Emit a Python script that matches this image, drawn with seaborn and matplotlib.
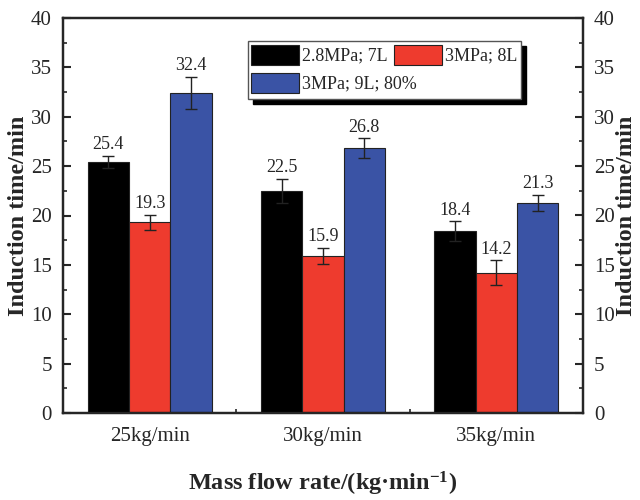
import matplotlib
matplotlib.use('Agg')
import matplotlib.pyplot as plt
import seaborn as sns
import pandas as pd
from matplotlib.ticker import MultipleLocator
from matplotlib.patches import Rectangle

categories = ['25kg/min', '30kg/min', '35kg/min']
series = ['2.8MPa; 7L', '3MPa; 8L', '3MPa; 9L; 80%']
vals_a = [25.4, 22.5, 18.4]
vals_b = [19.3, 15.9, 14.2]
vals_c = [32.4, 26.8, 21.3]
err_a = [0.6, 1.2, 1.0]
err_b = [0.8, 0.8, 1.25]
err_c = [1.6, 1.0, 0.8]
colors = ['#000000', '#EE3B2E', '#3A53A5']

sns.set_style('ticks')
plt.rcParams['font.family'] = ['Liberation Serif', 'DejaVu Serif']
plt.rcParams['mathtext.fontset'] = 'custom'
plt.rcParams['mathtext.rm'] = 'Liberation Serif'
plt.rcParams['mathtext.bf'] = 'Liberation Serif:bold'

df = pd.DataFrame({
    'cat': categories * 3,
    'series': [s for s in series for _ in categories],
    'val': vals_a + vals_b + vals_c,
})
errs = [err_a, err_b, err_c]

fig = plt.figure(figsize=(6.4, 5), dpi=100)
ax = fig.add_axes([63 / 640, 1 - 413 / 500, 520 / 640, 395 / 500])
sns.barplot(data=df, x='cat', y='val', hue='series', order=categories,
            hue_order=series, palette=colors, saturation=1, width=0.716,
            errorbar=None, edgecolor='#222222', linewidth=0.8, ax=ax)

for cont, ee in zip(ax.containers, errs):
    for bar, e in zip(cont, ee):
        x = bar.get_x() + bar.get_width() / 2
        h = bar.get_height()
        ax.errorbar(x, h, yerr=e, fmt='none', ecolor='#222222',
                    elinewidth=1.0, capsize=4, capthick=1.0, zorder=5)
        ax.annotate(f'{h:.1f}', (x, h + e), xytext=(0, 2),
                    textcoords='offset points', ha='center', va='bottom',
                    fontsize=13)

ax.set_xlim(-0.5, 2.5)
ax.set_ylim(0, 40)
ax.yaxis.set_major_locator(MultipleLocator(5))
ax.yaxis.set_minor_locator(MultipleLocator(2.5))
ax.set_xticks([0.5, 1.5], minor=True)
ax.tick_params(which='major', direction='in', length=6, width=1.5,
               labelsize=15, top=False, right=False)
ax.tick_params(axis='x', which='major', pad=10)
ax.tick_params(axis='y', which='major', pad=8)
ax.tick_params(which='minor', direction='in', length=3, width=1.2,
               top=False, right=False)
for sp in ax.spines.values():
    sp.set_linewidth(1.6)
    sp.set_color('black')
    sp.set_visible(True)

ax.set_xlabel('Mass flow rate/(kg·min$\\mathbf{^{-1}}$)', fontsize=17.5,
              fontweight='bold', labelpad=17)
ax.set_ylabel('Induction time/min', fontsize=17.5, fontweight='bold', labelpad=1)

ax2 = ax.twinx()
ax2.set_ylim(0, 40)
ax2.yaxis.set_major_locator(MultipleLocator(5))
ax2.yaxis.set_minor_locator(MultipleLocator(2.5))
ax2.tick_params(which='major', direction='in', length=6, width=1.5,
                labelsize=15, pad=8)
ax2.tick_params(which='minor', direction='in', length=3, width=1.2)
ax2.set_ylabel('Induction time/min', fontsize=17.5, fontweight='bold',
               rotation=90, labelpad=1)
for sp in ax2.spines.values():
    sp.set_linewidth(1.6)

handles, labels = ax.get_legend_handles_labels()
if ax.get_legend() is not None:
    ax.get_legend().remove()

# legend frame with solid black shadow
W, H = 520.0, 395.0
fx0, fx1 = (248 - 63) / W, (521 - 63) / W
fy0, fy1 = (413 - 99) / H, (413 - 41) / H
ax2.add_patch(Rectangle((fx0 + 5 / W, fy0 - 5 / H), fx1 - fx0, fy1 - fy0,
                        transform=ax2.transAxes, facecolor='black',
                        edgecolor='black', zorder=8, clip_on=False))
ax2.add_patch(Rectangle((fx0, fy0), fx1 - fx0, fy1 - fy0,
                        transform=ax2.transAxes, facecolor='white',
                        edgecolor='#555555', linewidth=1.0, zorder=9,
                        clip_on=False))

common = dict(loc='upper left', borderaxespad=0, borderpad=0, frameon=False,
              fontsize=13, handlelength=2.65, handleheight=1.3,
              handletextpad=0.17, columnspacing=0.38)
leg1 = ax2.legend([handles[0], handles[1]], [labels[0], labels[1]], ncol=2,
                  bbox_to_anchor=((251 - 63) / W, (413 - 45) / H), **common)
leg1.set_zorder(10)
ax2.add_artist(leg1)
leg2 = ax2.legend([handles[2]], [labels[2]], ncol=1,
                  bbox_to_anchor=((251 - 63) / W, (413 - 73) / H), **common)
leg2.set_zorder(10)

fig.savefig('out.png', dpi=100)
